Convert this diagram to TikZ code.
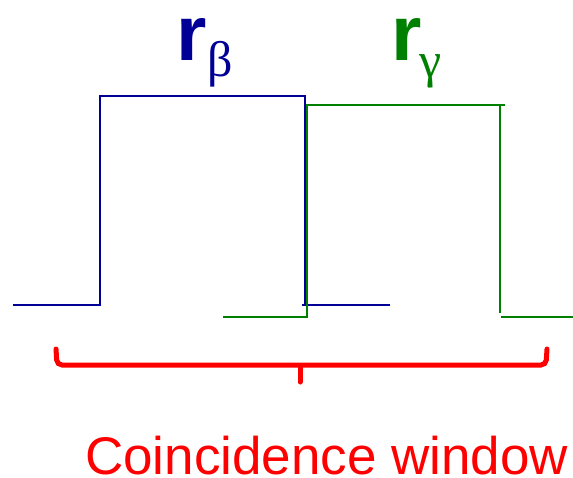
\documentclass[tikz,border=0pt]{standalone}
\usepackage{fontspec}
\setmainfont{Liberation Sans}
\newfontfamily\greekf{Liberation Serif}
\definecolor{pulseblue}{RGB}{0,0,150}
\definecolor{pulsegreen}{RGB}{0,128,0}
\definecolor{winred}{RGB}{255,0,0}
\begin{document}
\begin{tikzpicture}[x=1pt,y=-1pt,
  bluepulse/.style={draw=pulseblue,line width=1.6pt},
  greenpulse/.style={draw=pulsegreen,line width=1.8pt},
  bigr/.style={inner sep=0pt,anchor=base west,font=\fontsize{78}{80}\selectfont\bfseries},
  subg/.style={inner sep=0pt,anchor=base west,font=\fontsize{50}{52}\selectfont\greekf},
  bracestyle/.style={draw=winred,line width=5pt,rounded corners=5pt,line cap=round}]
\useasboundingbox (0,0) rectangle (573,477);
% blue pulse
\draw[bluepulse] (13,305) -- (100,305) -- (100,96) -- (306,96);
\draw[bluepulse] (305,96) -- (305,305);
\draw[bluepulse] (302,305) -- (390,305);
% green pulse
\draw[greenpulse] (223,317) -- (307,317) -- (307,105) -- (505,105);
\draw[greenpulse] (500,104) -- (500,313);
\draw[greenpulse] (501,317) -- (573,317);
% labels
\node[bigr,text=pulseblue] (rb) at (176,60) {r};
\node[subg,text=pulseblue] (beta) at (207,76) {β};
\node[bigr,text=pulsegreen] (rg) at (391,60) {r};
\node[subg,text=pulsegreen] (gamma) at (419,77) {γ};
% brace
\draw[bracestyle] (56,349) -- (57,365) -- (546,365) -- (547,349);
\draw[bracestyle] (300,366) -- (300,382);
\node[inner sep=0pt,anchor=base west,text=winred,font=\fontsize{53}{55}\selectfont] (cw) at (85,474) {Coincidence window};
\end{tikzpicture}
\end{document}
